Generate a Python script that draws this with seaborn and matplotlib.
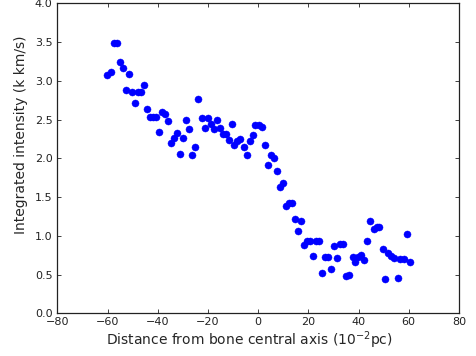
import matplotlib
matplotlib.use("Agg")
import matplotlib.pyplot as plt
import seaborn as sns
import pandas as pd

distance = [-60.2, -58.8, -57.5, -56.2, -55.1, -53.9, -52.7, -51.5, -50.3, -49.0,
            -47.9, -46.9, -45.4, -44.2, -43.0, -42.0, -40.6, -39.4, -38.2, -37.1,
            -35.9, -34.7, -33.5, -32.3, -31.1, -29.9, -28.7, -27.5, -26.3, -25.1,
            -23.9, -22.5, -21.3, -20.2, -19.0, -17.8, -16.6, -15.4, -14.2, -13.0,
            -11.8, -10.6, -9.6, -8.4, -7.2, -5.8, -4.6, -3.4, -2.2, -1.1,
            0.2, 1.5, 2.7, 3.9, 5.1, 6.2, 7.5, 8.8, 9.8, 10.9,
            12.1, 13.3, 14.7, 16.0, 17.0, 18.4, 19.4, 20.6, 21.8, 23.0,
            24.4, 25.4, 26.7, 28.0, 29.1, 30.3, 31.5, 32.6, 33.9, 35.1,
            36.3, 37.6, 38.7, 39.9, 41.1, 42.3, 43.5, 44.7, 46.0, 47.2,
            48.3, 49.6, 50.6, 51.8, 52.9, 54.2, 55.6, 56.6, 58.1, 59.2,
            60.4]
intensity = [3.08, 3.11, 3.49, 3.49, 3.24, 3.16, 2.88, 3.09, 2.85, 2.72,
             2.85, 2.85, 2.95, 2.64, 2.54, 2.54, 2.54, 2.34, 2.60, 2.57,
             2.48, 2.20, 2.26, 2.33, 2.06, 2.26, 2.50, 2.38, 2.04, 2.15,
             2.77, 2.52, 2.39, 2.52, 2.44, 2.38, 2.49, 2.39, 2.31, 2.31,
             2.24, 2.45, 2.17, 2.22, 2.25, 2.15, 2.05, 2.23, 2.30, 2.43,
             2.43, 2.41, 2.17, 1.92, 2.05, 2.00, 1.84, 1.63, 1.68, 1.38,
             1.42, 1.42, 1.22, 1.07, 1.19, 0.88, 0.94, 0.94, 0.74, 0.94,
             0.94, 0.52, 0.73, 0.73, 0.57, 0.87, 0.72, 0.90, 0.90, 0.48,
             0.49, 0.73, 0.66, 0.73, 0.75, 0.69, 0.94, 1.19, 1.09, 1.12,
             1.12, 0.83, 0.44, 0.78, 0.74, 0.71, 0.46, 0.70, 0.70, 1.02,
             0.66]

x_ticks = [-80, -60, -40, -20, 0, 20, 40, 60, 80]
y_ticks = [0.0, 0.5, 1.0, 1.5, 2.0, 2.5, 3.0, 3.5, 4.0]

df = pd.DataFrame({"distance": distance, "intensity": intensity})

sns.set_style("ticks")
plt.rcParams["font.family"] = ["DejaVu Sans"]

fig = plt.figure(figsize=(4.77, 3.56), dpi=100)
ax = fig.add_axes([0.1205, 0.1194, 0.8415, 0.8713])

sns.scatterplot(data=df, x="distance", y="intensity", ax=ax,
                color="#0000ff", edgecolor="#0000ff", s=26, linewidth=0.3,
                legend=False)

ax.set_xlim(-80, 80)
ax.set_ylim(0, 4.0)
ax.set_xticks(x_ticks)
ax.set_yticks(y_ticks)
ax.set_xticklabels([f"{t:d}".replace("-", "\u2212") for t in x_ticks])
ax.set_yticklabels([f"{t:.1f}" for t in y_ticks])
ax.tick_params(axis="both", direction="in", length=3, width=0.6, top=True,
               right=True, labelsize=8, colors="#222222")
ax.tick_params(axis="x", pad=2.5)
ax.tick_params(axis="y", pad=3.5)
for sp in ax.spines.values():
    sp.set_visible(True)
    sp.set_linewidth(0.9)
    sp.set_color("#222222")

ax.set_xlabel(r"Distance from bone central axis (10$^{-2}$pc)", fontsize=10)
ax.set_ylabel("Integrated intensity (k km/s)", fontsize=10)
ax.xaxis.set_label_coords(0.479, -0.052)
ax.yaxis.set_label_coords(-0.074, 0.575)

fig.savefig("out.png", dpi=100, facecolor="white")
